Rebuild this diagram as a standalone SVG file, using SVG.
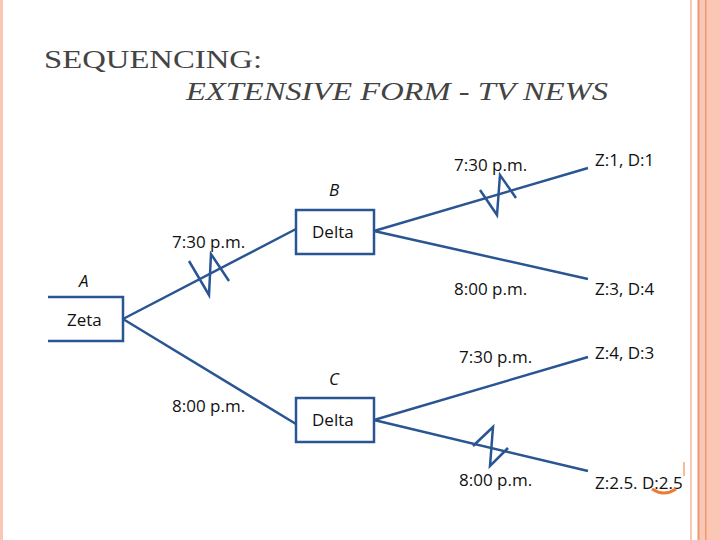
<svg xmlns="http://www.w3.org/2000/svg" width="720" height="540" viewBox="0 0 720 540">
<style>
.t{font-family:"Liberation Serif",serif;font-size:25px;fill:#444}
.l{font-family:"Open Sans","DejaVu Sans",sans-serif;font-size:17px;fill:#111}
.b{fill:#fff;stroke:#2a5593;stroke-width:2.5}
.c{stroke:#2a5593;stroke-width:2.5;fill:none}
</style>
<rect width="720" height="540" fill="#fff"/>
<rect x="0" y="0" width="3" height="540" fill="#f9c7b3"/>
<rect x="690" y="0" width="30" height="540" fill="#f9c7b3"/>
<rect x="692" y="0" width="5" height="540" fill="#fff"/>
<rect x="698" y="0" width="1.5" height="540" fill="#ef9a6e"/>
<rect x="705" y="0" width="1.5" height="540" fill="#ef9a6e"/>
<text class="t" x="44" y="68" textLength="218" lengthAdjust="spacingAndGlyphs">SEQUENCING:</text>
<text class="t" x="186" y="100" font-style="italic" textLength="422" lengthAdjust="spacingAndGlyphs">EXTENSIVE FORM - TV NEWS</text>
<g id="connectors" class="c">
<path d="M123 319L296 229M123 319L296 424M374 231L588 168M374 231L588 279M374 420L588 357M374 420L588 471"/>
<path d="M189 261L209 295L211 254L229 281"/>
<path d="M480 190L497 215L500 175L516 198"/>
<path d="M473 446L493 427L490 466L508 448"/>
</g>
<g id="A"><text class="l" x="79" y="287" font-style="italic">A</text>
<path class="b" d="M48 297H123V341H48"/><text class="l" x="67" y="326">Zeta</text></g>
<g id="B"><text class="l" x="329" y="196" font-style="italic">B</text>
<rect class="b" x="296" y="210" width="78" height="44"/><text class="l" x="312" y="238">Delta</text></g>
<g id="C"><text class="l" x="329" y="385" font-style="italic">C</text>
<rect class="b" x="296" y="398" width="78" height="44"/><text class="l" x="312" y="426">Delta</text></g>
<g id="labels">
<text class="l" x="172" y="248">7:30 p.m.</text>
<text class="l" x="172" y="412">8:00 p.m.</text>
<text class="l" x="454" y="171">7:30 p.m.</text>
<text class="l" x="454" y="295">8:00 p.m.</text>
<text class="l" x="459" y="363">7:30 p.m.</text>
<text class="l" x="459" y="486">8:00 p.m.</text>
<text class="l" x="595" y="166">Z:1, D:1</text>
<text class="l" x="595" y="295">Z:3, D:4</text>
<text class="l" x="595" y="359">Z:4, D:3</text>
<text class="l" x="595" y="489">Z:2.5. D:2.5</text>
</g>
<path d="M652 489Q664 497 676 489" fill="none" stroke="#ee7a30" stroke-width="3"/>
<path d="M684 462V476" stroke="#ee7a30" stroke-width="1"/>
</svg>
